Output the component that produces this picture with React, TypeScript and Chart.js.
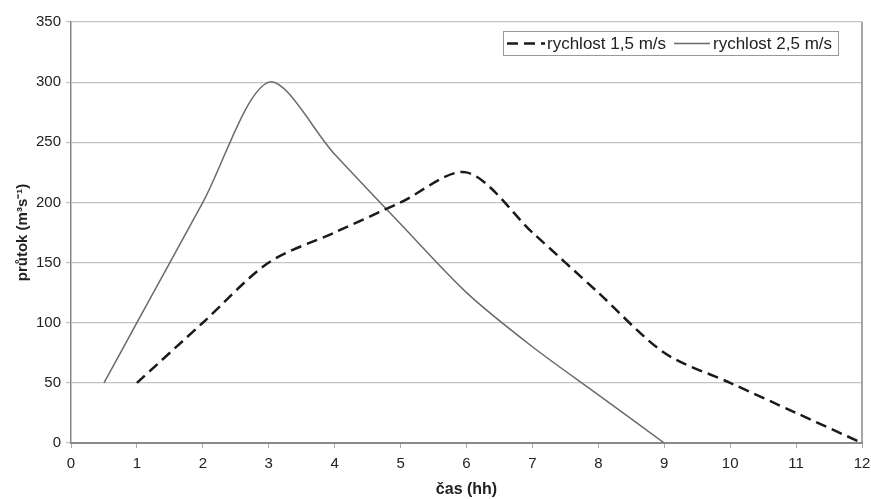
import React, { useEffect, useRef } from "react";
import { Chart, registerables } from "chart.js";

Chart.register(...registerables);

const labelSlow = "rychlost 1,5 m/s";
const labelFast = "rychlost 2,5 m/s";

const slowHours = [1, 2, 3, 4, 5, 6, 7, 8, 9, 10, 11, 12];
const slowFlow = [50, 100, 150, 175, 200, 225, 175, 125, 75, 50, 25, 0];

const fastHours = [0.5, 1, 2, 3, 4, 5, 6, 7, 8, 9];
const fastFlow = [50, 100, 200, 300, 240, 182, 125, 80, 40, 0];

const xTitle = "čas (hh)";
const yTitle = "průtok (m³s⁻¹)";

const FONT = "'Liberation Sans', Arial, sans-serif";

const boxPlugin = {
  id: "boxLegend",
  afterDraw(chart: any) {
    const { ctx, chartArea } = chart;
    ctx.save();
    ctx.strokeStyle = "#888";
    ctx.lineWidth = 1.5;
    ctx.beginPath();
    ctx.moveTo(chartArea.right, chartArea.top);
    ctx.lineTo(chartArea.right, chartArea.bottom);
    ctx.stroke();

    const bx = 503, by = 31, bw = 335, bh = 24;
    ctx.fillStyle = "#fff";
    ctx.fillRect(bx, by, bw, bh);
    ctx.strokeStyle = "#999";
    ctx.lineWidth = 1;
    ctx.strokeRect(bx + 0.5, by + 0.5, bw, bh);
    const cy = by + bh / 2 + 0.5;
    const ds = chart.data.datasets;
    ctx.strokeStyle = ds[0].borderColor;
    ctx.lineWidth = 2.5;
    ctx.setLineDash([11, 6]);
    ctx.beginPath();
    ctx.moveTo(507, cy);
    ctx.lineTo(545, cy);
    ctx.stroke();
    ctx.setLineDash([]);
    ctx.font = `17px ${FONT}`;
    ctx.fillStyle = "#222";
    ctx.textBaseline = "middle";
    ctx.textAlign = "left";
    ctx.fillText(ds[0].label, 547, cy + 1);
    ctx.strokeStyle = ds[1].borderColor;
    ctx.lineWidth = 1.5;
    ctx.beginPath();
    ctx.moveTo(674, cy);
    ctx.lineTo(710, cy);
    ctx.stroke();
    ctx.fillText(ds[1].label, 713, cy + 1);
    ctx.restore();
  },
};

export default function App() {
  const ref = useRef<HTMLCanvasElement>(null);
  useEffect(() => {
    if (!ref.current) return;
    const chart = new Chart(ref.current, {
      type: "line",
      data: {
        datasets: [
          {
            label: labelSlow,
            data: slowHours.map((h, i) => ({ x: h, y: slowFlow[i] })),
            borderColor: "#1a1a1a",
            borderWidth: 2.5,
            borderDash: [11, 6],
            pointRadius: 0,
            tension: 0.3,
            fill: false,
          },
          {
            label: labelFast,
            data: fastHours.map((h, i) => ({ x: h, y: fastFlow[i] })),
            borderColor: "#6a6a6a",
            borderWidth: 1.5,
            pointRadius: 0,
            tension: 0.3,
            fill: false,
          },
        ],
      },
      options: {
        responsive: false,
        animation: false,
        layout: { padding: { top: 22, right: 9, left: 0, bottom: 0 } },
        plugins: { legend: { display: false }, tooltip: { enabled: false } },
        scales: {
          x: {
            type: "linear",
            min: 0,
            max: 12,
            afterFit(scale: any) {
              scale.height = 56;
              scale.paddingLeft = 0;
              scale.paddingRight = 0;
            },
            ticks: {
              stepSize: 1,
              color: "#222",
              font: { family: FONT, size: 15 },
              padding: 7,
              maxRotation: 0,
            },
            grid: {
              drawOnChartArea: false,
              drawTicks: true,
              tickLength: 5,
              color: "#aaa",
            },
            border: { color: "#8a8a8a", width: 2 },
            title: {
              display: true,
              text: xTitle,
              color: "#222",
              font: { family: FONT, size: 16, weight: "bold" },
              padding: { top: 0, bottom: 0 },
            },
          },
          y: {
            min: 0,
            max: 350,
            afterFit(scale: any) {
              scale.width = 71;
              scale.paddingTop = 0;
              scale.paddingBottom = 0;
            },
            ticks: {
              stepSize: 50,
              color: "#222",
              font: { family: FONT, size: 15 },
              padding: 5,
            },
            grid: {
              color: "#c4c4c4",
              lineWidth: 1.2,
              drawTicks: true,
              tickLength: 5,
            },
            border: { color: "#888", width: 1.5 },
            title: {
              display: true,
              text: yTitle,
              color: "#222",
              font: { family: FONT, size: 15, weight: "bold" },
              padding: { top: 14, bottom: 0 },
            },
          },
        },
      },
      plugins: [boxPlugin],
    });
    return () => chart.destroy();
  }, []);
  return (
    <div style={{ position: "fixed", left: 0, top: 0, width: 871, height: 499, background: "#fff" }}>
      <canvas ref={ref} width={871} height={499} style={{ display: "block" }} />
    </div>
  );
}
